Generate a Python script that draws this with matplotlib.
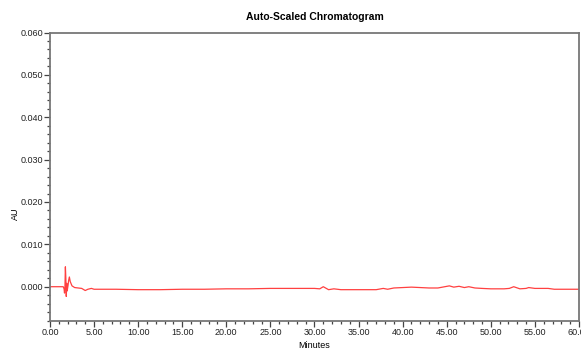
import matplotlib.pyplot as plt
from matplotlib.ticker import MultipleLocator, FormatStrFormatter

plt.rcParams['font.family'] = ['Liberation Sans', 'DejaVu Sans']

# retention time (min) and absorbance (AU)
minutes = [0.0, 1.0, 1.5, 1.6, 1.65, 1.7, 1.75, 1.8, 1.85, 1.9, 1.95, 2.05, 2.12, 2.2, 2.3,
           2.5, 2.8, 3.2, 3.6, 4.0, 4.3, 4.7, 5.0, 7.5, 10.0, 12.5, 15.0, 17.5, 20.0,
           22.5, 25.0, 28.0, 30.0, 30.6, 31.0, 31.6, 32.2, 33.0, 35.0, 37.0, 37.8,
           38.3, 39.0, 40.0, 41.0, 42.0, 43.0, 44.0, 45.3, 45.8, 46.4, 47.0, 47.5,
           48.2, 49.0, 50.0, 51.5, 52.1, 52.6, 53.3, 54.0, 54.3, 55.0, 56.5, 57.2,
           58.5, 60.0]
au = [0.0, 0.0, 0.0, -0.0005, -0.0015, 0.0, 0.0047, 0.002, -0.0023, 0.0008, -0.001, 0.0003,
      0.0015, 0.0023, 0.0012, 0.0002, -0.0002, -0.0003, -0.0004, -0.0009, -0.0006, -0.0004,
      -0.0006, -0.0006, -0.0007, -0.0007, -0.0006, -0.0006, -0.0005, -0.0005, -0.0004,
      -0.0004, -0.0004, -0.0005, 0.0, -0.0007, -0.0005, -0.0007, -0.0007, -0.0007,
      -0.0004, -0.0006, -0.0003, -0.0002, -0.0001, -0.0002, -0.0003, -0.0003, 0.0002,
      -0.0001, 0.0001, -0.0002, 0.0, -0.0003, -0.0004, -0.0005, -0.0005, -0.0004, 0.0,
      -0.0005, -0.0004, -0.0002, -0.0004, -0.0004, -0.0006, -0.0006, -0.0006]

fig = plt.figure(figsize=(5.81, 3.5), dpi=100)
ax = fig.add_axes([0.086, 0.084, 0.9105, 0.823])
ax.plot(minutes, au, color='#ff4040', linewidth=0.9)

ax.set_xlim(0, 60)
ax.set_ylim(-0.008, 0.060)
ax.xaxis.set_major_locator(MultipleLocator(5))
ax.xaxis.set_minor_locator(MultipleLocator(1))
ax.yaxis.set_major_locator(MultipleLocator(0.01))
ax.yaxis.set_minor_locator(MultipleLocator(0.002))
ax.xaxis.set_major_formatter(FormatStrFormatter('%.2f'))
ax.yaxis.set_major_formatter(FormatStrFormatter('%.3f'))

for s in ax.spines.values():
    s.set_color('#777777')
    s.set_linewidth(1.3)
ax.tick_params(which='both', direction='out', colors='#444444', labelcolor='#222222',
               labelsize=6.5, width=0.9, pad=1)
ax.tick_params(which='major', length=4)
ax.tick_params(which='minor', length=2.5)

ax.set_xlabel('Minutes', fontsize=6.5)
ax.xaxis.set_label_coords(0.5, -0.072)
ax.set_ylabel('AU', fontsize=6.5)
ax.yaxis.set_label_coords(-0.057, 0.37)
ax.set_title('Auto-Scaled Chromatogram', fontsize=7.5, fontweight='bold', pad=9)

fig.savefig('out.png', dpi=100)
